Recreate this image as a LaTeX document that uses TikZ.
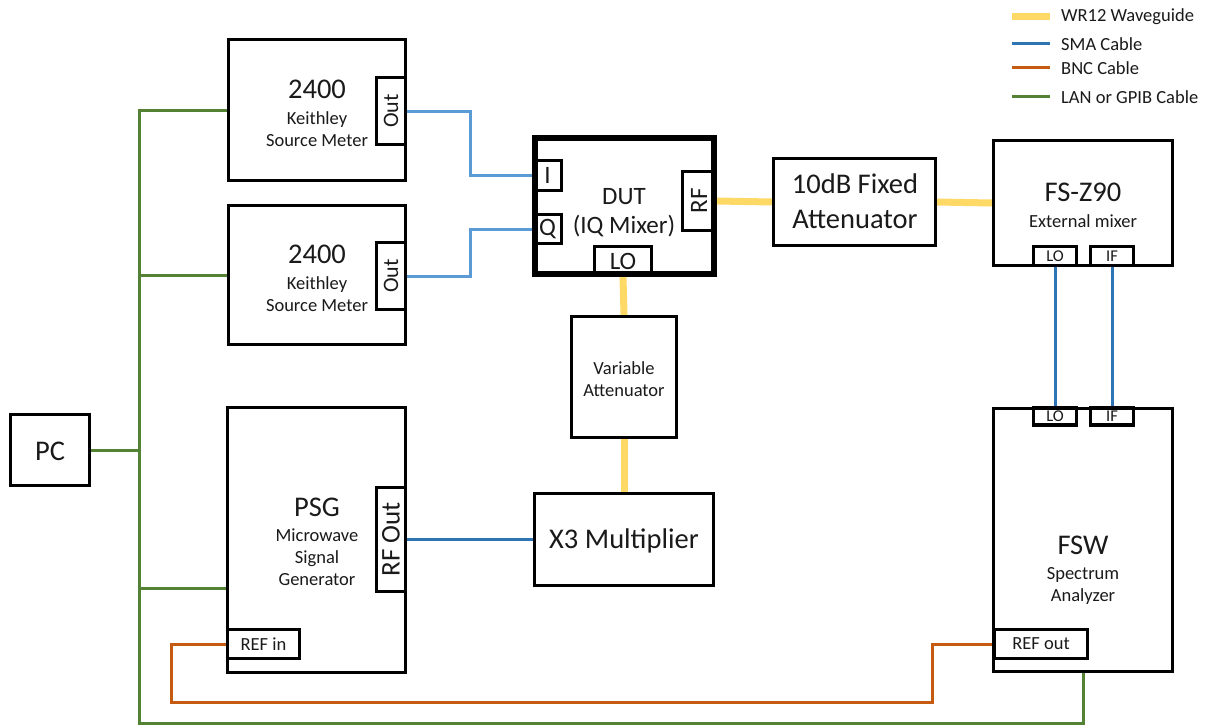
\documentclass[tikz,border=0pt]{standalone}
\usepackage{fontspec}
\setmainfont{Carlito}
\usepackage{graphicx}
\definecolor{wgyellow}{HTML}{FFD966}
\definecolor{smablue}{HTML}{2E75B6}
\definecolor{smalight}{HTML}{5B9BD5}
\definecolor{bncorange}{HTML}{C55A11}
\definecolor{langreen}{HTML}{548235}
\definecolor{ink}{HTML}{1A1A1A}
\pgfdeclarelayer{bg}
\pgfsetlayers{bg,main}
\tikzset{
  box/.style={draw=black,line width=3.2pt,inner sep=0pt},
  port/.style={draw=black,line width=3.2pt,inner sep=0pt,text=ink},
  txt/.style={inner sep=0pt,text=ink,align=center},
  big/.style={txt,font=\fontsize{28.5}{31}\selectfont},
  mid/.style={txt,font=\fontsize{25}{28}\selectfont},
  med/.style={txt,font=\fontsize{18.5}{22}\selectfont},
  wg/.style={draw=wgyellow,line width=7pt},
  sma/.style={draw=smablue,line width=3pt},
  smal/.style={draw=smalight,line width=3pt},
  bnc/.style={draw=bncorange,line width=3pt},
  lan/.style={draw=langreen,line width=3pt},
  lgtext/.style={txt,anchor=west,font=\fontsize{18.5}{21}\selectfont},
}
\begin{document}
\begin{tikzpicture}[x=1pt,y=-1pt]
\useasboundingbox (0,0) rectangle (1210,726);

% ---------- Keithley 1 ----------
\node[box,minimum width=177pt,minimum height=141pt] (k1) at (317,110) {};
\node[port,minimum width=29pt,minimum height=67pt] (k1out) at (391,111) {\rotatebox{90}{\fontsize{22}{22}\selectfont Out}};
\node[big] (k1t) at (317,89) {2400};
\node[med] (k1s) at (317,129) {Keithley\\Source Meter};

% ---------- Keithley 2 ----------
\node[box,minimum width=177pt,minimum height=139pt] (k2) at (317,275) {};
\node[port,minimum width=29pt,minimum height=67pt] (k2out) at (391,276) {\rotatebox{90}{\fontsize{22}{22}\selectfont Out}};
\node[big] (k2t) at (317,254) {2400};
\node[med] (k2s) at (317,294) {Keithley\\Source Meter};

% ---------- DUT ----------
\node[draw=black,line width=6pt,inner sep=0pt,minimum width=179pt,minimum height=136pt] (dut) at (624.5,206) {};
\node[port,minimum width=28pt,minimum height=30pt] (dutI) at (547.5,175.5) {\fontsize{25}{25}\selectfont I};
\node[port,minimum width=28pt,minimum height=29pt] (dutQ) at (547.5,229) {\fontsize{25}{25}\selectfont Q};
\node[port,minimum width=33pt,minimum height=59pt] (dutRF) at (699,201) {\rotatebox{90}{\fontsize{25}{25}\selectfont RF}};
\node[port,minimum width=57pt,minimum height=29pt] (dutLO) at (623,261) {\fontsize{25}{25}\selectfont LO};
\node[mid] (dutt) at (624,197) {DUT};
\node[mid] (dutm) at (624,226) {(IQ Mixer)};

% ---------- 10 dB attenuator ----------
\node[box,minimum width=162pt,minimum height=87pt] (fatt) at (854.5,202) {};
\node[big] (fatt1) at (855,184) {10dB Fixed};
\node[big] (fatt2) at (855,219) {Attenuator};

% ---------- FS-Z90 ----------
\node[box,minimum width=179pt,minimum height=125pt] (fsz) at (1083,203) {};
\node[big] (fszt) at (1083,192) {FS-Z90};
\node[med] (fszs) at (1083,221) {External mixer};
\node[port,minimum width=43pt,minimum height=19pt] (fszLO) at (1055,256) {\fontsize{16.5}{16.5}\selectfont LO};
\node[port,minimum width=43pt,minimum height=19pt] (fszIF) at (1112,256) {\fontsize{16.5}{16.5}\selectfont IF};

% ---------- FSW ----------
\node[box,minimum width=179pt,minimum height=263pt] (fsw) at (1083,540) {};
\node[port,minimum width=43pt,minimum height=17pt] (fswLO) at (1055,416.5) {\fontsize{16.5}{16.5}\selectfont LO};
\node[port,minimum width=43pt,minimum height=17pt] (fswIF) at (1112,416.5) {\fontsize{16.5}{16.5}\selectfont IF};
\node[big] (fswt) at (1083,545) {FSW};
\node[med] (fsws) at (1083,586) {Spectrum\\Analyzer};
\node[port,minimum width=93pt,minimum height=29pt] (refout) at (1041,644) {\fontsize{18.5}{18.5}\selectfont REF out};

% ---------- Variable attenuator ----------
\node[box,minimum width=105pt,minimum height=121pt] (vatt) at (624,377) {};
\node[med] (vattt) at (624,379) {Variable\\Attenuator};

% ---------- X3 multiplier ----------
\node[box,minimum width=179pt,minimum height=92pt] (x3) at (624,539.5) {};
\node[big] (x3t) at (624,541) {X3 Multiplier};

% ---------- PSG ----------
\node[box,minimum width=178pt,minimum height=265pt] (psg) at (316.5,540) {};
\node[port,minimum width=29pt,minimum height=104pt] (rfout) at (391,539.5) {\rotatebox{90}{\fontsize{27}{27}\selectfont RF Out}};
\node[port,minimum width=72pt,minimum height=29pt] (refin) at (263.5,644) {\fontsize{18.5}{18.5}\selectfont REF in};
\node[big] (psgt) at (317,507) {PSG};
\node[med] (psgs) at (317,557) {Microwave\\Signal\\Generator};

% ---------- PC ----------
\node[box,minimum width=79pt,minimum height=71pt] (pc) at (50,450) {};
\node[big] (pct) at (50,451) {PC};

% ---------- bus / route coordinates ----------
\coordinate (bustop) at (139,110);
\coordinate (busbot) at (139,723);
\coordinate (b1) at (171,702);
\coordinate (b2) at (932,702);

% ---------- legend ----------
\coordinate (l1a) at (1012,16); \coordinate (l1b) at (1050,16);
\coordinate (l2a) at (1012,43); \coordinate (l2b) at (1050,43);
\coordinate (l3a) at (1012,67); \coordinate (l3b) at (1050,67);
\coordinate (l4a) at (1012,96); \coordinate (l4b) at (1050,96);
\node[lgtext] (lg1) at (1061,17) {WR12 Waveguide};
\node[lgtext] (lg2) at (1061,44) {SMA Cable};
\node[lgtext] (lg3) at (1061,68) {BNC Cable};
\node[lgtext] (lg4) at (1061,97) {LAN or GPIB Cable};

\begin{pgfonlayer}{bg}
  \fill[white] (0,0) rectangle (1210,726);
  % legend lines
  \draw[wg] (l1a) -- (l1b);
  \draw[sma] (l2a) -- (l2b);
  \draw[bnc] (l3a) -- (l3b);
  \draw[lan] (l4a) -- (l4b);
  % waveguides
  \draw[wg] (dutRF.east) -- (fatt.west);
  \draw[wg] (fatt.east) -- (fsz.west);
  \draw[wg] (dutLO.south) -- (vatt.north);
  \draw[wg] (vatt.south) -- (x3.north);
  % SMA
  \draw[smal] (k1out.east) -- ++(63,0) |- (dutI.west);
  \draw[smal] (k2out.east) -- ++(63,0) |- (dutQ.west);
  \draw[sma] (rfout.east) -- (x3.west);
  \draw[sma] (fszLO.south) -- (fswLO.north);
  \draw[sma] (fszIF.south) -- (fswIF.north);
  % BNC
  \draw[bnc] (refin.west) -| (b1) -- (b2) |- (refout.west);
  % LAN
  \draw[lan] (k1.west) -- (bustop) -- (busbot) -| (fsw.south);
  \draw[lan] (k2.west) -- (k2.west -| bustop);
  \draw[lan] (pc.east) -- (pc.east -| bustop);
  \draw[lan] ([yshift=-48pt]psg.west) -- ([yshift=-48pt]psg.west -| bustop);
\end{pgfonlayer}
\end{tikzpicture}
\end{document}
